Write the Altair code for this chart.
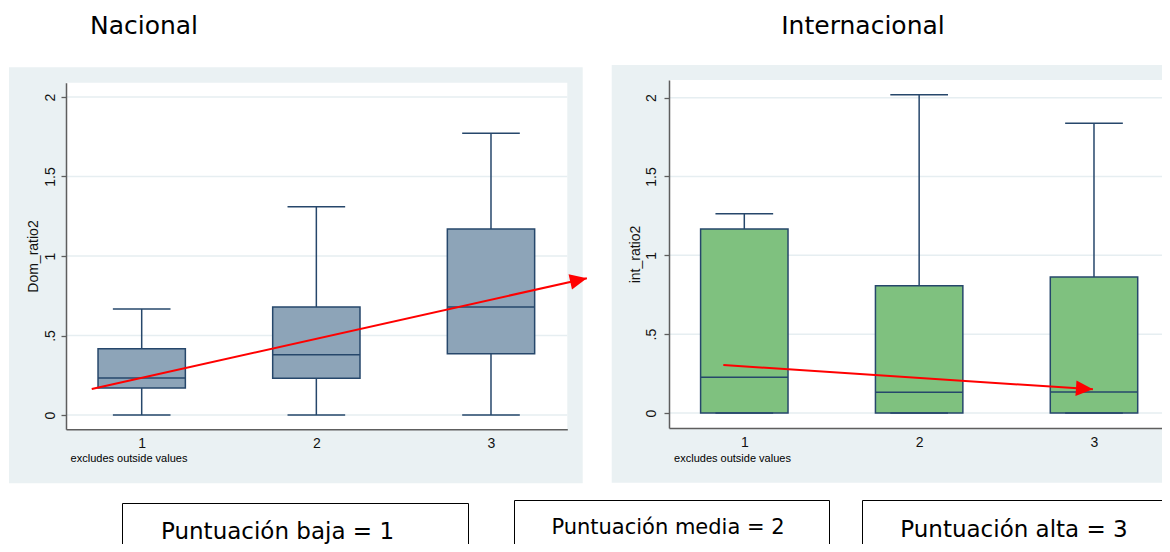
import altair as alt
import pandas as pd

# ---------------- data ----------------
categories = [1, 2, 3]

nac_min = [0.0, 0.0, 0.0]
nac_q1 = [0.170, 0.231, 0.386]
nac_median = [0.233, 0.379, 0.679]
nac_q3 = [0.417, 0.679, 1.170]
nac_max = [0.667, 1.310, 1.772]

int_min = [0.0, 0.0, 0.0]
int_q1 = [0.0, 0.0, 0.0]
int_median = [0.226, 0.131, 0.133]
int_q3 = [1.167, 0.807, 0.862]
int_max = [1.264, 2.018, 1.837]

nac_arrow_x = [0.714, 3.549]
nac_arrow_y = [0.164, 0.860]
int_arrow_x = [0.880, 2.994]
int_arrow_y = [0.304, 0.150]

y_ticks = [0, 0.5, 1, 1.5, 2]
panel_titles = ["Nacional", "Internacional"]
y_titles = ["Dom_ratio2", "int_ratio2"]
note_text = "excludes outside values"
legend_labels = ["Puntuación baja = 1", "Puntuación media = 2", "Puntuación alta = 3"]

# ---------------- layout / style ----------------
W, H = 1154, 536
PANEL_BG = "#EAF1F3"
GRID = "#E6EEF1"
AXIS_COL = "#5E5E5E"
STROKE = "#26476B"
AXFONT = "Liberation Sans"
BIGFONT = "DejaVu Sans"
BOX_HALF = 0.25
CAP_HALF = 0.165

one = pd.DataFrame({"k": [0]})


def panel(minv, q1, med, q3, mx, ax, ay, xdom, xrange, ydom, yrange, fill,
          ytitle, label_pad, title_x, arrow_angle):
    df = pd.DataFrame({"cat": categories, "lo": minv, "q1": q1,
                       "med": med, "q3": q3, "hi": mx})
    xs = alt.Scale(domain=xdom, range=xrange, nice=False, zero=False)
    ys = alt.Scale(domain=ydom, range=yrange, nice=False, zero=False)
    xaxis = alt.Axis(values=categories, orient="bottom", offset=yrange[0] - H,
                     grid=False, zindex=1, ticks=False, tickSize=0,
                     labelPadding=14, labelBaseline="middle", format="d",
                     domainColor=AXIS_COL, domainWidth=1.5, labelColor="#111",
                     labelFont=AXFONT, labelFontSize=14, title=None)
    yaxis = alt.Axis(values=y_ticks, orient="left", offset=-xrange[0],
                     grid=False, zindex=1, tickSize=5, tickColor=AXIS_COL,
                     tickWidth=1.3, domainColor=AXIS_COL, domainWidth=1.5,
                     labelAngle=270, labelAlign="center", labelBaseline="middle",
                     labelPadding=label_pad, labelColor="#111", labelFont=AXFONT,
                     labelFontSize=14, format="~g",
                     labelExpr="datum.value == 0.5 ? '.5' : datum.label",
                     title=ytitle, titleFont=AXFONT, titleFontSize=14,
                     titleFontWeight="normal", titleColor="#111",
                     titleX=title_x, titleBaseline="middle")

    def X(f):
        return alt.X(f, type="quantitative", scale=xs, axis=xaxis)

    def Y(f):
        return alt.Y(f, type="quantitative", scale=ys, axis=yaxis)

    base = alt.Chart(df).transform_calculate(
        bx0=f"datum.cat - {BOX_HALF}", bx1=f"datum.cat + {BOX_HALF}",
        cx0=f"datum.cat - {CAP_HALF}", cx1=f"datum.cat + {CAP_HALF}")

    plot_bg = alt.Chart(one).mark_rect(fill="white").encode(
        x=alt.XDatum(xdom[0], type="quantitative", scale=xs, axis=xaxis),
        x2=alt.datum(xdom[1]),
        y=alt.YDatum(ydom[0], type="quantitative", scale=ys, axis=yaxis),
        y2=alt.datum(ydom[1]))

    grid = alt.Chart(pd.DataFrame({"v": y_ticks})).mark_rule(
        color=GRID, strokeWidth=1.5).encode(
        y=Y("v"),
        x=alt.XDatum(xdom[0], type="quantitative", scale=xs, axis=xaxis),
        x2=alt.datum(xdom[1]))

    whisk_up = base.mark_rule(color=STROKE, strokeWidth=1.5).encode(
        x=X("cat"), y=Y("q3"), y2="hi")
    whisk_lo = base.mark_rule(color=STROKE, strokeWidth=1.5).encode(
        x=X("cat"), y=Y("lo"), y2="q1")
    box = base.mark_rect(fill=fill, stroke=STROKE, strokeWidth=1.5).encode(
        x=X("bx0"), x2="bx1", y=Y("q1"), y2="q3")
    median = base.mark_rule(color=STROKE, strokeWidth=1.5).encode(
        x=X("bx0"), x2="bx1", y=Y("med"))
    cap_hi = base.mark_rule(color=STROKE, strokeWidth=1.5).encode(
        x=X("cx0"), x2="cx1", y=Y("hi"))
    cap_lo = base.mark_rule(color=STROKE, strokeWidth=1.5).encode(
        x=X("cx0"), x2="cx1", y=Y("lo"))

    arrow_df = pd.DataFrame({"ax": ax, "ay": ay, "o": [0, 1]})
    arrow = alt.Chart(arrow_df).mark_line(color="#FF0000", strokeWidth=2).encode(
        x=X("ax"), y=Y("ay"), order="o:Q")
    head_df = pd.DataFrame({"ax": [ax[-1]], "ay": [ay[-1]]})
    head = alt.Chart(head_df).mark_point(
        shape="M0,0L-1,-0.46L-1,0.46Z", size=1156, filled=True,
        color="#FF0000", opacity=1, angle=arrow_angle).encode(
        x=X("ax"), y=Y("ay"))

    return alt.layer(plot_bg, grid, whisk_up, whisk_lo, box, median,
                     cap_hi, cap_lo, arrow, head)


left = panel(nac_min, nac_q1, nac_median, nac_q3, nac_max,
             nac_arrow_x, nac_arrow_y,
             xdom=[0.5666, 3.4369], xrange=[58, 559.3],
             ydom=[-0.0899, 2.0899], yrange=[421.3, 74.7],
             fill="#8DA4B8", ytitle=y_titles[0], label_pad=11,
             title_x=-33, arrow_angle=347.4)

right = panel(int_min, int_q1, int_median, int_q3, int_max,
              int_arrow_x, int_arrow_y,
              xdom=[0.5693, 3.4347], xrange=[661, 1162],
              ydom=[-0.0951, 2.112], yrange=[420, 72],
              fill="#7FC17F", ytitle=y_titles[1], label_pad=13,
              title_x=-34, arrow_angle=3.8)


def rect(x, x2, y, y2, **kw):
    return alt.Chart(one).mark_rect(**kw).encode(
        x=alt.value(x), x2=alt.value(x2), y=alt.value(y), y2=alt.value(y2))


def label(txt, x, y, size, font, align="center"):
    return alt.Chart(one).mark_text(
        text=txt, font=font, fontSize=size, color="#000", align=align,
        baseline="middle").encode(x=alt.value(x), y=alt.value(y))


bg_left = rect(1, 574.7, 59.3, 475.3, fill=PANEL_BG)
bg_right = rect(603.7, 1170, 57, 474.7, fill=PANEL_BG)

texts = [
    label(panel_titles[0], 136, 18, 25, BIGFONT),
    label(panel_titles[1], 855, 18, 25, BIGFONT),
    label(note_text, 121, 451.3, 11, AXFONT),
    label(note_text, 724.5, 451, 11, AXFONT),
]

boxes = [
    rect(114.5, 460.5, 495.5, 560, fill="white", fillOpacity=0,
         stroke="#000", strokeWidth=1),
    rect(506.5, 821.5, 492.5, 560, fill="white", fillOpacity=0,
         stroke="#000", strokeWidth=1),
    rect(854.5, 1161, 492.5, 560, fill="white", fillOpacity=0,
         stroke="#000", strokeWidth=1),
    label(legend_labels[0], 269.5, 524, 23, BIGFONT),
    label(legend_labels[1], 660, 520, 21, BIGFONT),
    label(legend_labels[2], 1006, 522, 23, BIGFONT),
]

chart = alt.layer(bg_left, bg_right, left, right, *texts, *boxes).resolve_scale(
    x="independent", y="independent"
).properties(
    width=W, height=H, padding=0,
    autosize=alt.AutoSizeParams(type="none"),
    background="white",
).configure_view(stroke=None)

chart.save("out.html", embed_options={"renderer": "svg", "actions": False})
